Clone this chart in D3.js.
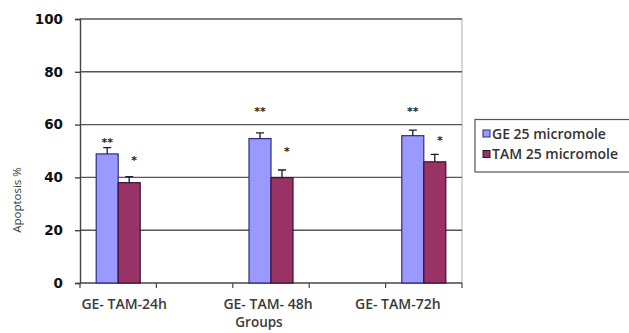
<!DOCTYPE html>
<html>
<head>
<meta charset="utf-8">
<script src="https://cdn.jsdelivr.net/npm/d3@7"></script>
<style>
  html, body { margin: 0; padding: 0; background: #fff; }
  svg { display: block; }
</style>
</head>
<body>
<script>
// Category slots along the x axis (empty slots keep the groups spaced apart)
const categories = ["GE- TAM-24h", "gap1", "GE- TAM- 48h", "gap2", "GE- TAM-72h"];
const groups = ["GE- TAM-24h", "GE- TAM- 48h", "GE- TAM-72h"];
const seriesNames = ["GE 25 micromole", "TAM 25 micromole"];
const geValues = [48.9, 54.7, 55.8];
const tamValues = [38.0, 39.9, 45.9];
const geErrors = [2.4, 2.2, 2.1];
const tamErrors = [2.3, 2.9, 2.8];
// Significance marks: level (in % units) where each mark sits
const geMarkLevels = [54.5, 66.3, 66.3];
const tamMarkLevels = [47.7, 51.1, 55.3];
const yTicks = [0, 20, 40, 60, 80, 100];

const W = 629, H = 333;
const margin = { left: 80, right: 167, top: 19, bottom: 50 };
const colors = { ge: "#9999ff", geStroke: "#2e2e7a", tam: "#993366", tamStroke: "#3a1030" };

const svg = d3.select("body").append("svg").attr("width", W).attr("height", H);

const x = d3.scaleBand().domain(categories).range([margin.left, W - margin.right]);
const y = d3.scaleLinear().domain([0, 100]).range([H - margin.bottom, margin.top]);
const inner = d3.scaleBand().domain(["ge", "tam"]).range([-22, 22]);

// right border of plot area
svg.append("line")
  .attr("x1", x.range()[1]).attr("x2", x.range()[1])
  .attr("y1", y(100)).attr("y2", y(0))
  .attr("stroke", "#bbb").attr("stroke-width", 1.2);

// horizontal gridlines
svg.append("g").selectAll("line").data(yTicks.filter(d => d > 0)).join("line")
  .attr("x1", margin.left).attr("x2", x.range()[1])
  .attr("y1", d => y(d)).attr("y2", d => y(d))
  .attr("stroke", "#555").attr("stroke-width", 1.4);

// y axis
const yAxis = svg.append("g")
  .attr("transform", `translate(${margin.left},0)`)
  .call(d3.axisLeft(y).tickValues(yTicks).tickSize(5).tickPadding(12));
yAxis.select(".domain").attr("stroke", "#444").attr("stroke-width", 1.4);
yAxis.selectAll(".tick line").attr("stroke", "#444").attr("stroke-width", 1.4);
yAxis.selectAll(".tick text")
  .attr("font-family", "DejaVu Sans, Verdana, sans-serif")
  .attr("font-weight", "bold").attr("font-size", 13.5).attr("fill", "#111");

// x axis with ticks between category slots
const xAxisG = svg.append("g").attr("transform", `translate(0,${y(0)})`);
xAxisG.append("line")
  .attr("x1", margin.left).attr("x2", x.range()[1])
  .attr("y1", 0).attr("y2", 0)
  .attr("stroke", "#444").attr("stroke-width", 1.4);
const tickXs = categories.map(c => x(c) + x.bandwidth()).concat([margin.left]);
xAxisG.selectAll("line.tk").data(tickXs).join("line").attr("class", "tk")
  .attr("x1", d => d).attr("x2", d => d).attr("y1", 0).attr("y2", 5)
  .attr("stroke", "#444").attr("stroke-width", 1.2);

// category labels
const labelShift = { "GE- TAM-24h": 6, "GE- TAM- 48h": -3, "GE- TAM-72h": -26 };
svg.append("g").selectAll("text").data(groups).join("text")
  .attr("x", d => x(d) + x.bandwidth() / 2 + labelShift[d])
  .attr("y", y(0) + 26)
  .attr("text-anchor", "middle")
  .attr("font-family", "Open Sans, sans-serif").attr("font-weight", 600)
  .attr("font-size", 14).attr("fill", "#3a3a3a")
  .text(d => d);

svg.append("text")
  .attr("x", 259).attr("y", y(0) + 44)
  .attr("text-anchor", "middle")
  .attr("font-family", "Open Sans, sans-serif").attr("font-weight", 600)
  .attr("font-size", 13.5).attr("fill", "#3a3a3a")
  .text("Groups");

// y axis title
svg.append("text")
  .attr("transform", `translate(21,200) rotate(-90)`)
  .attr("text-anchor", "middle")
  .attr("font-family", "Open Sans, sans-serif")
  .attr("font-size", 11.5).attr("fill", "#3a3a3a")
  .text("Apoptosis %");

// bars
const rows = groups.map((g, i) => ({
  g,
  items: [
    { k: "ge", v: geValues[i], e: geErrors[i], m: geMarkLevels[i], mark: "**" },
    { k: "tam", v: tamValues[i], e: tamErrors[i], m: tamMarkLevels[i], mark: "*" }
  ]
}));

const gG = svg.append("g").selectAll("g").data(rows).join("g")
  .attr("transform", d => `translate(${x(d.g) + x.bandwidth() / 2},0)`);

gG.selectAll("rect").data(d => d.items).join("rect")
  .attr("x", d => inner(d.k)).attr("width", inner.bandwidth())
  .attr("y", d => y(d.v)).attr("height", d => y(0) - y(d.v))
  .attr("fill", d => colors[d.k]).attr("stroke", d => colors[d.k + "Stroke"])
  .attr("stroke-width", 1.2);

// upper error bars
gG.selectAll("path.err").data(d => d.items).join("path").attr("class", "err")
  .attr("d", d => {
    const cx = inner(d.k) + inner.bandwidth() / 2;
    return `M${cx},${y(d.v)}V${y(d.v + d.e)}M${cx - 4},${y(d.v + d.e)}H${cx + 4}`;
  })
  .attr("fill", "none").attr("stroke", "#1a1a3a").attr("stroke-width", 1.3);

// significance marks
gG.selectAll("text.mk").data(d => d.items).join("text").attr("class", "mk")
  .attr("x", d => inner(d.k) + inner.bandwidth() / 2 + (d.k === "tam" ? 5 : 0))
  .attr("y", d => y(d.m) + 7)
  .attr("text-anchor", "middle")
  .attr("font-family", "DejaVu Sans, sans-serif").attr("font-weight", "bold")
  .attr("font-size", 11).attr("fill", "#222")
  .text(d => d.mark);

// legend
const lg = svg.append("g");
lg.append("rect")
  .attr("x", 475).attr("y", 119.5).attr("width", 160).attr("height", 52.5)
  .attr("fill", "#fff").attr("stroke", "#555").attr("stroke-width", 1.2);
const li = lg.selectAll("g").data(seriesNames).join("g")
  .attr("transform", (d, i) => `translate(483,${130 + i * 20.5})`);
li.append("rect").attr("width", 7).attr("height", 7)
  .attr("fill", (d, i) => i ? colors.tam : colors.ge)
  .attr("stroke", (d, i) => i ? colors.tamStroke : colors.geStroke);
li.append("text").attr("x", 9).attr("y", 8.5)
  .attr("font-family", "Open Sans, sans-serif").attr("font-weight", 600)
  .attr("font-size", 14).attr("fill", "#333")
  .text(d => d);
</script>
</body>
</html>
